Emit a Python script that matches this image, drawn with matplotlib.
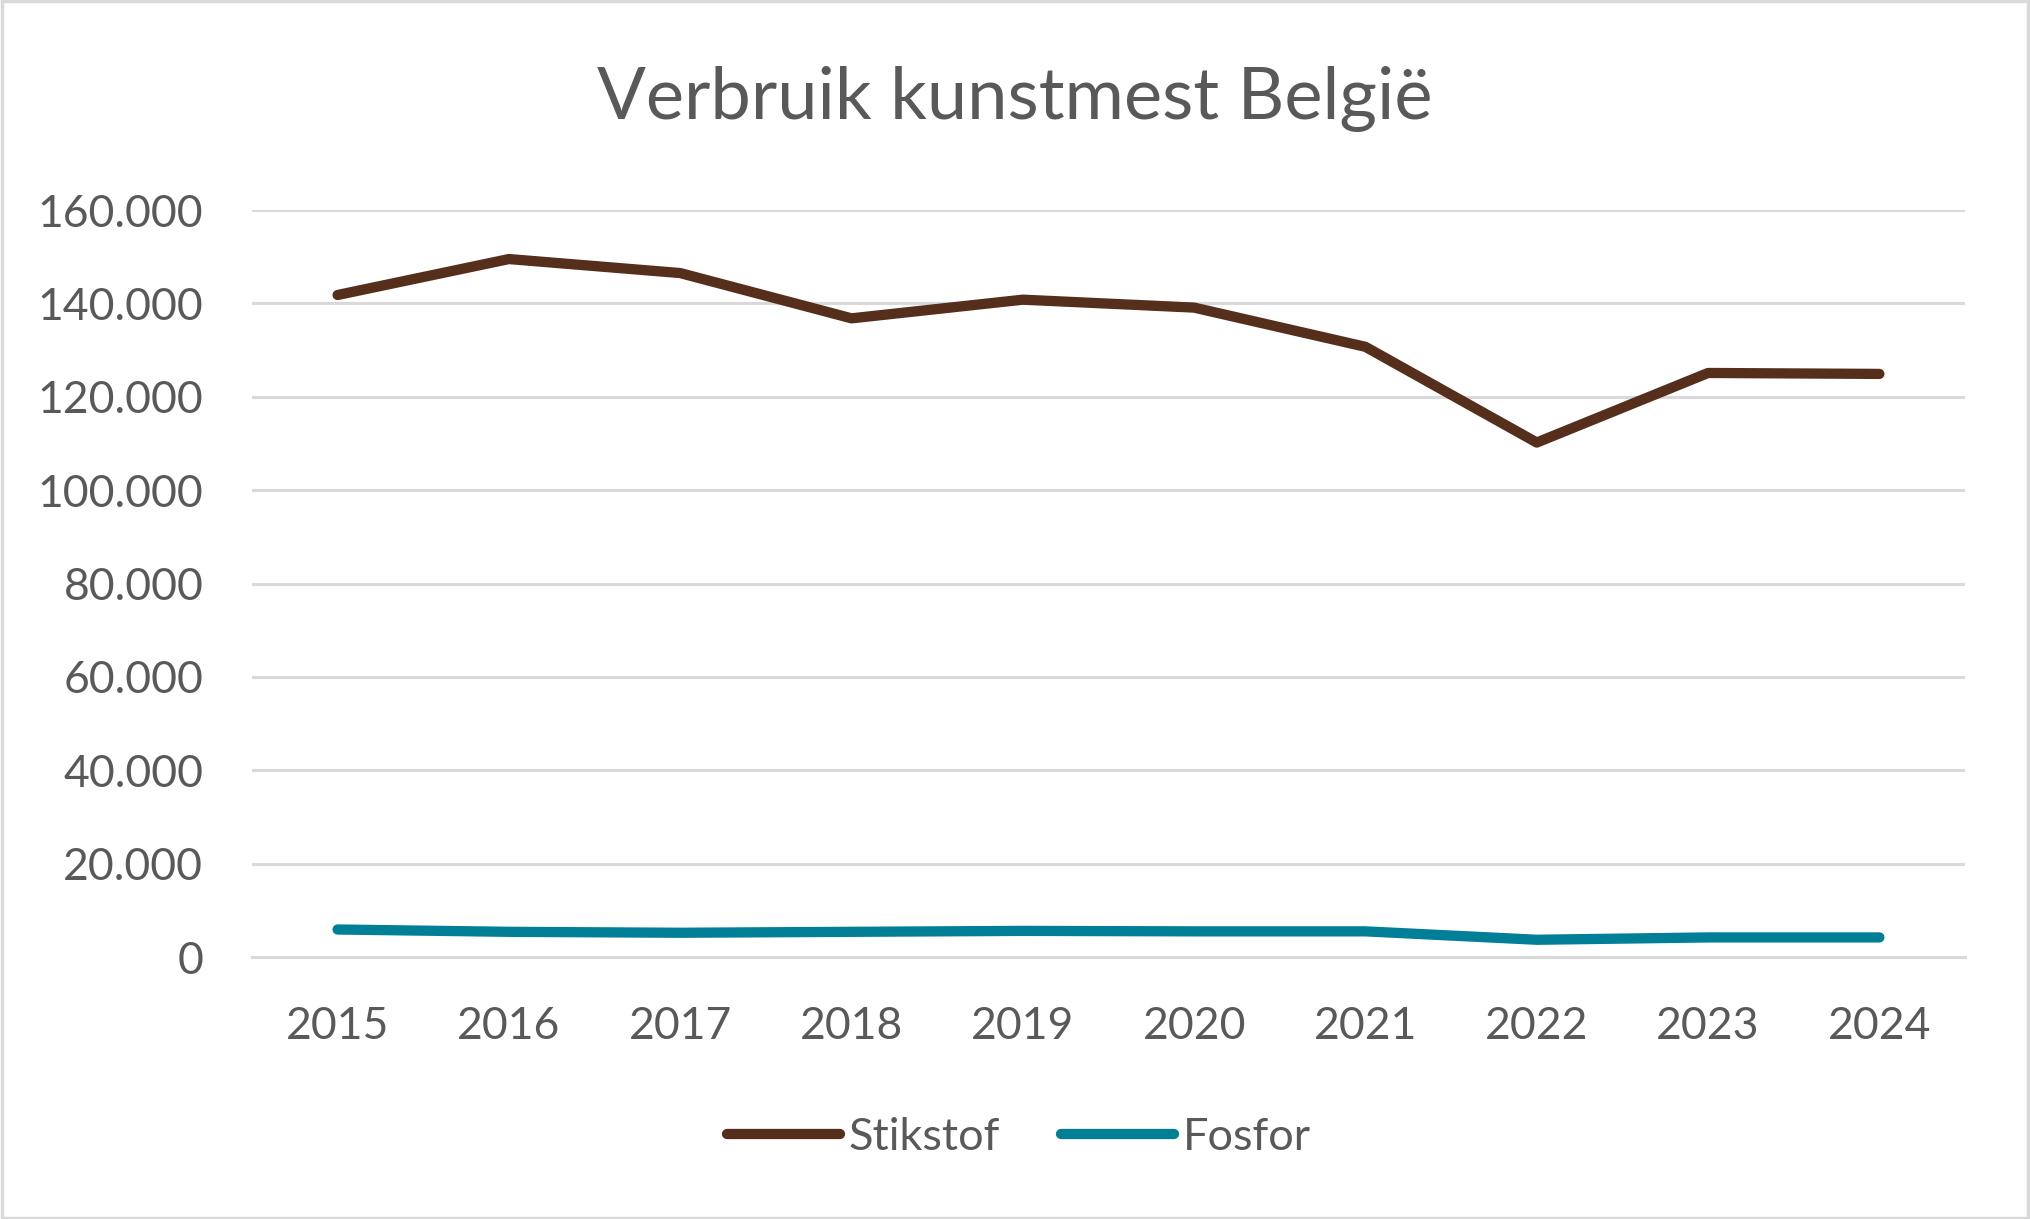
import matplotlib
matplotlib.use("Agg")
import matplotlib.pyplot as plt
from matplotlib.ticker import FuncFormatter, FixedLocator
from matplotlib.patches import Rectangle

years = ["2015", "2016", "2017", "2018", "2019", "2020", "2021", "2022", "2023", "2024"]
stikstof = [141800, 149500, 146500, 136800, 140800, 139100, 130700, 110200, 125100, 124900]
fosfor = [5900, 5400, 5200, 5400, 5600, 5500, 5500, 3700, 4200, 4200]
yticks = [0, 20000, 40000, 60000, 80000, 100000, 120000, 140000, 160000]

title = "Verbruik kunstmest België"
text_color = "#595959"
grid_color = "#d9d9d9"
c_stik = "#552e1c"
c_fos = "#007f96"

plt.rcParams["font.family"] = ["Lato", "DejaVu Sans"]

fig = plt.figure(figsize=(20.30, 12.19), dpi=100)
ax = fig.add_axes([0.1241, 0.2149, 0.968 - 0.1241, 0.8277 - 0.2149])

x = list(range(len(years)))
ax.plot(x, stikstof, color=c_stik, lw=7.4, solid_capstyle="round",
        solid_joinstyle="round", label="Stikstof", zorder=3)
ax.plot(x, fosfor, color=c_fos, lw=7.4, solid_capstyle="round",
        solid_joinstyle="round", label="Fosfor", zorder=3)

ax.set_xlim(-0.5, len(years) - 0.5)
ax.set_ylim(0, 160000)
ax.yaxis.set_major_locator(FixedLocator(yticks))
ax.yaxis.set_major_formatter(FuncFormatter(lambda v, p: f"{int(v):,}".replace(",", ".")))
ax.set_xticks(x)
ax.set_xticklabels(years)

ax.grid(axis="y", color=grid_color, lw=2.2, zorder=0)
ax.set_axisbelow(True)
for s in ["top", "right", "left"]:
    ax.spines[s].set_visible(False)
ax.spines["bottom"].set_color(grid_color)
ax.spines["bottom"].set_linewidth(2.2)

ax.tick_params(axis="both", length=0, labelsize=32, labelcolor=text_color)
ax.tick_params(axis="y", pad=35)
ax.tick_params(axis="x", pad=35)

fig.text(0.5, 1 - 99 / 1219, title, ha="center", va="center",
         fontsize=52, color=text_color)

leg = fig.legend(loc="center", bbox_to_anchor=(0.502, 1 - 1137 / 1219), ncol=2,
                 frameon=False, fontsize=32.5, handlelength=2.5,
                 handletextpad=0.2, columnspacing=1.35)
for t in leg.get_texts():
    t.set_color(text_color)
for h in leg.get_lines():
    h.set_solid_capstyle("round")

fig.patches.append(Rectangle((0.001, 0.001), 0.998, 0.998, transform=fig.transFigure,
                             fill=False, edgecolor=grid_color, lw=2.5))

fig.savefig("out.png", dpi=100)
